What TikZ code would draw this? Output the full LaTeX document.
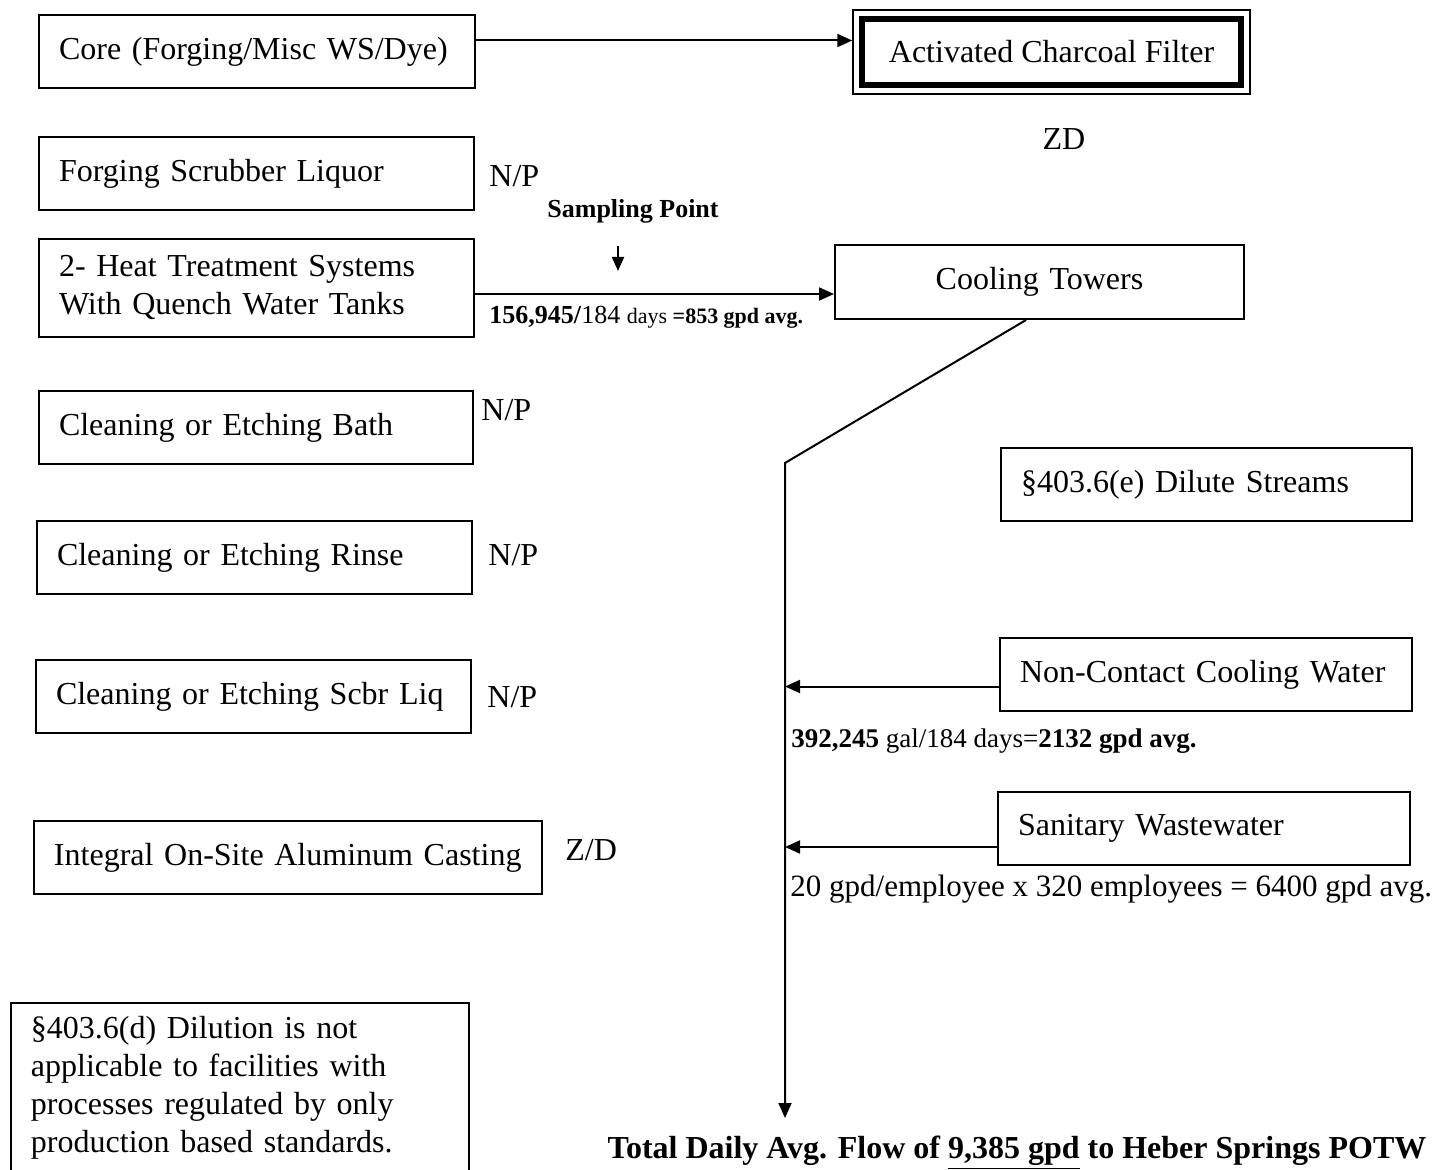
\documentclass[tikz,border=0pt]{standalone}
\usepackage{fontspec}
\setmainfont{Liberation Serif}
\usetikzlibrary{arrows.meta, positioning}
\tikzset{
  box/.style={draw, line width=1pt, anchor=north west, inner xsep=10pt, inner ysep=0pt,
    minimum height=36.5pt, align=left, font=\fontsize{16}{19}\selectfont},
  note/.style={inner sep=0pt, anchor=west, font=\fontsize{16}{19}\selectfont},
  flow/.style={line width=1pt, -{Triangle[length=7.5pt,width=6.5pt]}}
}

\begin{document}
\begin{tikzpicture}[x=0.5pt, y=-0.5pt]
\useasboundingbox (0,0) rectangle (1456,1170);
% process streams
\node[box, text width=198pt] (core) at (38,14) {Core (Forging/Misc WS/Dye)};
\node[box, text width=197.5pt] (scrub) at (38,136) {Forging Scrubber Liquor};
\node[box, text width=197.5pt, minimum height=49pt] (heat) at (38,238) {2- Heat Treatment Systems\\With Quench Water Tanks};
\node[box, text width=197pt] (bath) at (38,390) {Cleaning or Etching Bath};
\node[box, text width=197.5pt] (rinse) at (36,520) {Cleaning or Etching Rinse};
\node[box, text width=197.5pt] (scbr) at (35,659) {Cleaning or Etching Scbr Liq};
\node[box, text width=234pt] (cast) at (33,820) {Integral On-Site Aluminum Casting};
\node[box, text width=209pt, minimum height=85pt] (dil) at (10,1002) {\S403.6(d) Dilution is not\\applicable to facilities with\\processes regulated by only\\production based standards.};
% treatment
\node[draw, line width=3pt, minimum width=189.5pt, minimum height=33pt, font=\fontsize{16}{19}\selectfont] (acf) at (1051.5,52) {Activated Charcoal Filter};
\node[draw, line width=0.75pt, minimum width=198.5pt, minimum height=42pt] (acfo) at (acf) {};
\node[box, text width=184.5pt, align=center, minimum height=37pt] (cool) at (834,244) {Cooling Towers};
% dilute streams
\node[box, text width=185.5pt] (dilute) at (1000,447) {\S403.6(e) Dilute Streams};
\node[box, text width=186pt] (ncw) at (999,637) {Non-Contact Cooling Water};
\node[box, text width=186pt] (san) at (997,791) {Sanitary Wastewater};
% labels
\node[note] (np1) at (489,176) {N/P};
\node[note] (np2) at (481,410) {N/P};
\node[note] (np3) at (488,555) {N/P};
\node[note] (np4) at (487,697) {N/P};
\node[note] (zd2) at (565,850) {Z/D};
\node[note, anchor=center] (zd) at (1064,139) {ZD};
\node[note, anchor=center, font=\bfseries\fontsize{13}{15}\selectfont] (samp) at (633,211) {Sampling Point};
\node[note, font=\fontsize{13}{15}\selectfont] (q1) at (489,317) {\textbf{156,945/}184 {\fontsize{11}{12}\selectfont days \textbf{=853 gpd avg.}}};
\node[note, font=\fontsize{13.5}{16}\selectfont] (q2) at (791,741) {\textbf{392,245} gal/184 days=\textbf{2132 gpd avg.}};
\node[note, font=\fontsize{15.5}{18}\selectfont] (q3) at (790,889) {20 gpd/employee x 320 employees = 6400 gpd avg.};
\node[note, anchor=center, font=\bfseries\fontsize{16}{19}\selectfont] (total) at (1017,1153) {Total Daily Avg. Flow of \underline{9,385 gpd} to Heber Springs POTW};
\coordinate (sp1) at (618,246);
\coordinate (sp2) at (618,271);
\coordinate (bend) at (785,463);
\coordinate (outlet) at (785,1118);
% flows
\draw[flow] ([yshift=5.5pt]core.east) -- ([yshift=5.5pt]core.east -| acfo.west);
\draw[flow] ([yshift=-3pt]heat.east) -- ([yshift=-3pt]heat.east -| cool.west);
\draw[line width=1pt, -{Triangle[length=7pt,width=6pt]}] (sp1) -- (sp2);
\draw[flow] ([xshift=-6.75pt]cool.south) -- (bend) -- (outlet);
\draw[flow] ([yshift=-6pt]ncw.west) -- ([yshift=-6pt]ncw.west -| bend);
\draw[flow] ([yshift=-9.25pt]san.west) -- ([yshift=-9.25pt]san.west -| bend);
\end{tikzpicture}
\end{document}
